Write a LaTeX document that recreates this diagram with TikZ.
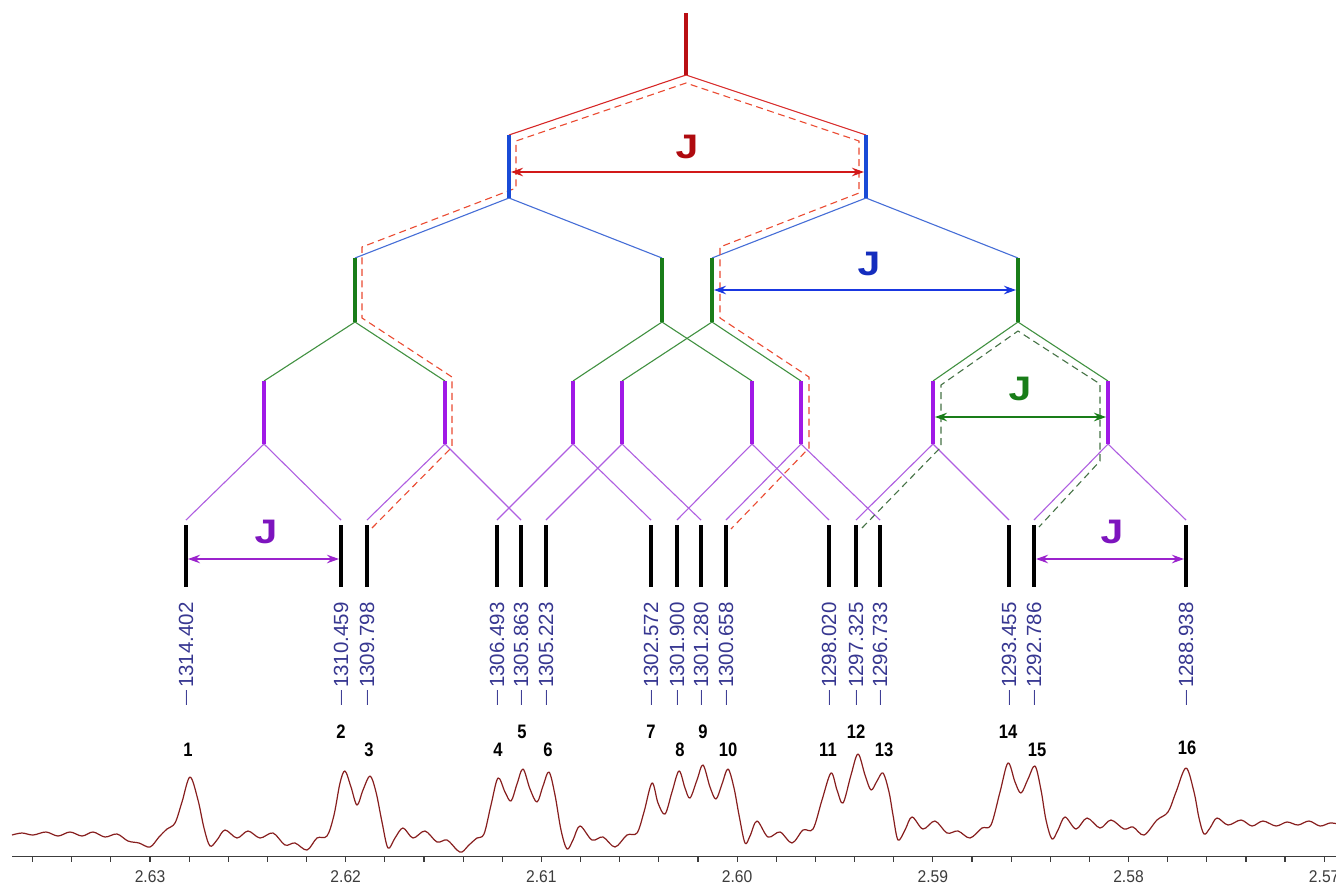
\documentclass[tikz,border=0pt]{standalone}
\usepackage{fontspec}
\setmainfont{Liberation Sans}
\newfontfamily\numfont{Liberation Sans Bold}[FakeStretch=0.85]
\newfontfamily\axfont{Liberation Sans}[FakeStretch=0.92]
\newfontfamily\jfont{Liberation Sans Bold Italic}[FakeStretch=1.2]
\usetikzlibrary{arrows.meta}

% level colours
\definecolor{rbar}{RGB}{185,15,20}
\definecolor{rline}{RGB}{215,40,40}
\definecolor{rdash}{RGB}{235,75,50}
\definecolor{rarrow}{RGB}{210,25,25}
\definecolor{bbar}{RGB}{25,75,215}
\definecolor{bline}{RGB}{70,110,215}
\definecolor{barrow}{RGB}{25,55,225}
\definecolor{gbar}{RGB}{25,125,25}
\definecolor{gline}{RGB}{65,145,65}
\definecolor{gdash}{RGB}{70,115,70}
\definecolor{garrow}{RGB}{25,125,25}
\definecolor{pbar}{RGB}{160,25,230}
\definecolor{pline}{RGB}{175,95,225}
\definecolor{parrow}{RGB}{155,35,205}
\definecolor{jred}{RGB}{175,10,15}
\definecolor{jblue}{RGB}{20,45,190}
\definecolor{jgreen}{RGB}{25,125,25}
\definecolor{jpurple}{RGB}{125,20,190}
\definecolor{freqblue}{RGB}{55,55,145}
\definecolor{speccol}{RGB}{135,30,30}
\definecolor{axisgray}{RGB}{60,60,60}

\tikzset{
  kbar/.style={line width=4pt, black},
  rbarst/.style={line width=3.6pt, rbar},
  bbarst/.style={line width=3.6pt, bbar},
  gbarst/.style={line width=3.6pt, gbar},
  pbarst/.style={line width=3.6pt, pbar},
  rdiag/.style={line width=1.1pt, rline, line join=round},
  bdiag/.style={line width=1.1pt, bline, line join=round},
  gdiag/.style={line width=1.1pt, gline, line join=round},
  pdiag/.style={line width=1.1pt, pline, line join=round},
  rtrace/.style={line width=1.1pt, rdash, dash pattern=on 7pt off 4.5pt},
  gtrace/.style={line width=1.1pt, gdash, dash pattern=on 7pt off 4.5pt},
  jarrow/.style={line width=1.2pt,
    {Stealth[length=12pt,width=8.5pt,inset=4pt]}-{Stealth[length=12pt,width=8.5pt,inset=4pt]}},
  jlab/.style={inner sep=0pt, font=\jfont\bfseries\itshape\fontsize{34}{36}\selectfont},
  freq/.style={rotate=90, anchor=west, inner sep=0pt, text=freqblue,
    font=\fontsize{20.5}{24}\selectfont},
  num/.style={inner sep=0pt, font=\numfont\fontsize{19.5}{22}\selectfont},
  ticklab/.style={inner sep=0pt, text=axisgray, font=\axfont\fontsize{17}{20}\selectfont},
  spec/.style={line width=1.2pt, speccol, line join=round},
}

\begin{document}
\begin{tikzpicture}[x=1pt,y=-1pt]
\useasboundingbox (0,0) rectangle (1336,887);
\fill[white] (0,0) rectangle (1336,887);
\clip (0,0) rectangle (1336,887);

% ---------- end points of the splitting tree ----------
\coordinate (Rt) at (686,13);  \coordinate (Rb) at (686,75);
\foreach \n/\x in {1/509,2/866}{
  \coordinate (B\n t) at (\x,135); \coordinate (B\n b) at (\x,198);}
\foreach \n/\x in {1/355,2/662,3/712,4/1018}{
  \coordinate (g\n t) at (\x,258); \coordinate (g\n b) at (\x,322);}
\foreach \n/\x in {1/264,2/445,3/573,4/622,5/752,6/801,7/933,8/1108}{
  \coordinate (p\n t) at (\x,381); \coordinate (p\n b) at (\x,444);}
\foreach \n/\x in {1/186,2/341,3/367,4/497,5/521,6/546,7/651,8/677,
                   9/701,10/726,11/829,12/856,13/880,14/1009,15/1034,16/1186}{
  \coordinate (k\n d) at (\x,520);
  \coordinate (k\n t) at (\x,525); \coordinate (k\n b) at (\x,587);}

% ---------- splitting lines ----------
\draw[rdiag] (B1t) -- (Rb) -- (B2t);
\draw[bdiag] (g1t) -- (B1b) -- (g2t);
\draw[bdiag] (g3t) -- (B2b) -- (g4t);
\foreach \g/\a/\b in {1/1/2,2/3/5,3/4/6,4/7/8}
  \draw[gdiag] (p\a t) -- (g\g b) -- (p\b t);
\foreach \p/\a/\b in {1/1/2,2/3/5,3/4/7,4/6/9,5/8/11,6/10/13,7/12/14,8/15/16}
  \draw[pdiag] (k\a d) -- (p\p b) -- (k\b d);

% ---------- traced paths ----------
\coordinate (rA) at (686,83);
\coordinate (rL1) at (516,141); \coordinate (rL2) at (516,188);
\coordinate (rL3) at (362,247); \coordinate (rL4) at (362,318);
\coordinate (rL5) at (452,377); \coordinate (rL6) at (452,447);
\coordinate (rL7) at (372,528);
\coordinate (rR1) at (859,141); \coordinate (rR2) at (859,193);
\coordinate (rR3) at (720,247); \coordinate (rR4) at (720,318);
\coordinate (rR5) at (809,377); \coordinate (rR6) at (809,448);
\coordinate (rR7) at (731,529);
\draw[rtrace] (rL7) -- (rL6) -- (rL5) -- (rL4) -- (rL3) -- (rL2) -- (rL1) -- (rA)
  -- (rR1) -- (rR2) -- (rR3) -- (rR4) -- (rR5) -- (rR6) -- (rR7);
\coordinate (gA) at (1018,331);
\coordinate (gL1) at (941,385); \coordinate (gL2) at (941,447);
\coordinate (gL3) at (862,528);
\coordinate (gR1) at (1100,384); \coordinate (gR2) at (1100,461);
\coordinate (gR3) at (1039,527);
\draw[gtrace] (gL3) -- (gL2) -- (gL1) -- (gA) -- (gR1) -- (gR2) -- (gR3);

% ---------- bars ----------
\draw[rbarst] (Rt) -- (Rb);
\foreach \n in {1,2} \draw[bbarst] (B\n t) -- (B\n b);
\foreach \n in {1,...,4} \draw[gbarst] (g\n t) -- (g\n b);
\foreach \n in {1,...,8} \draw[pbarst] (p\n t) -- (p\n b);
\foreach \n in {1,...,16} \draw[kbar] (k\n t) -- (k\n b);

% ---------- coupling constants ----------
\coordinate (jR1) at (511,172);  \coordinate (jR2) at (864,172);
\coordinate (jB1) at (714,290);  \coordinate (jB2) at (1016,290);
\coordinate (jG1) at (935,417);  \coordinate (jG2) at (1106,417);
\coordinate (jP1) at (188,559);  \coordinate (jP2) at (339,559);
\coordinate (jQ1) at (1036,559); \coordinate (jQ2) at (1184,559);
\draw[jarrow, rarrow] (jR1) -- (jR2);
\draw[jarrow, barrow] (jB1) -- (jB2);
\draw[jarrow, garrow] (jG1) -- (jG2);
\draw[jarrow, parrow] (jP1) -- (jP2);
\draw[jarrow, parrow] (jQ1) -- (jQ2);
\node[jlab, text=jred]    (JR) at (687,147)  {J};
\node[jlab, text=jblue]   (JB) at (869,264)  {J};
\node[jlab, text=jgreen]  (JG) at (1020,389) {J};
\node[jlab, text=jpurple] (JP) at (266,532)  {J};
\node[jlab, text=jpurple] (JQ) at (1112,532) {J};

% ---------- line frequencies (Hz) ----------
\foreach \n/\x/\f in {1/186/1314.402,2/341/1310.459,3/367/1309.798,
    4/497/1306.493,5/521/1305.863,6/546/1305.223,7/651/1302.572,
    8/677/1301.900,9/701/1301.280,10/726/1300.658,11/829/1298.020,
    12/856/1297.325,13/880/1296.733,14/1009/1293.455,15/1034/1292.786,
    16/1186/1288.938}
  \node[freq] (f\n) at (\x,706)
    {\raisebox{2.6pt}{\fontsize{15}{15}\selectfont —}\hspace{3pt}\f};

% ---------- peak numbers ----------
\foreach \n/\x/\y in {1/188/750,2/341/732,3/369/750,4/498/750,5/522/732,
    6/548/750,7/651/732,8/680/750,9/703/732,10/728/750,11/828/750,
    12/856/732,13/884/750,14/1008/732,15/1037/750,16/1187/748}
  \node[num] (n\n) at (\x,\y) {\n};

% ---------- spectrum ----------
\draw[spec] plot[smooth, tension=0.55] coordinates {
(12,835) (22,833) (33,835) (46,832) (58,836) (70,832) (82,836) (93,832)
(105,837) (117,834) (128,841) (139,843) (150,847) (159,837) (167,829)
(175,823) (182,802) (190,777) (198,800) (204,828) (210,846) (217,840)
(225,830) (237,838) (248,831) (260,838) (273,833) (285,845) (295,843)
(307,850) (317,838) (327,836) (334,815) (340,783) (345,771) (351,787)
(357,805) (363,790) (370,776) (376,792) (382,822) (388,848) (395,838)
(403,828) (413,838) (425,831) (437,842) (447,840) (457,850) (462,852)
(469,845) (477,838) (484,834) (491,805) (498,778) (505,792) (511,801)
(517,784) (523,769) (530,789) (537,802) (543,786) (549,772) (555,795)
(561,830) (567,849) (573,840) (580,826) (592,840) (603,837) (615,847)
(627,835) (637,833) (644,812) (652,783) (658,803) (665,814) (672,792)
(679,771) (685,788) (690,798) (697,780) (703,765) (710,787) (716,799)
(722,784) (728,769) (734,788) (739,815) (745,843) (750,836) (757,821)
(768,837) (780,832) (792,843) (803,830) (813,829) (822,800) (831,773)
(837,790) (843,803) (851,775) (858,754) (865,775) (871,790) (877,781)
(883,773) (889,792) (893,815) (898,840) (905,830) (912,817) (923,829)
(935,821) (947,833) (958,831) (970,838) (982,828) (991,825) (1000,792)
(1008,763) (1015,782) (1021,793) (1028,779) (1035,766) (1041,790)
(1046,820) (1052,839) (1058,830) (1065,817) (1076,829) (1087,818)
(1100,828) (1111,820) (1124,829) (1133,827) (1144,835) (1157,820)
(1168,812) (1176,792) (1186,768) (1194,792) (1199,818) (1204,834)
(1210,828) (1217,818) (1228,825) (1241,820) (1252,826) (1263,821)
(1276,826) (1287,822) (1298,825) (1309,821) (1320,826) (1330,823)
(1338,824)};

% ---------- chemical shift axis (ppm) ----------
\coordinate (ax0) at (12,856.5);
\coordinate (ax1) at (1340,856.5);
\draw[line width=1.4pt, axisgray] (ax0) -- (ax1);
\foreach \k in {0,...,33}
  \draw[line width=1.2pt, axisgray] (32.6+39.14*\k,856.5) -- ++(0,5);
\foreach \v/\x in {2.63/150,2.62/345.7,2.61/541.4,2.60/737.1,
                   2.59/932.8,2.58/1128.5,2.57/1324.2}
  \node[ticklab] at (\x,877) {\v};
\end{tikzpicture}
\end{document}
